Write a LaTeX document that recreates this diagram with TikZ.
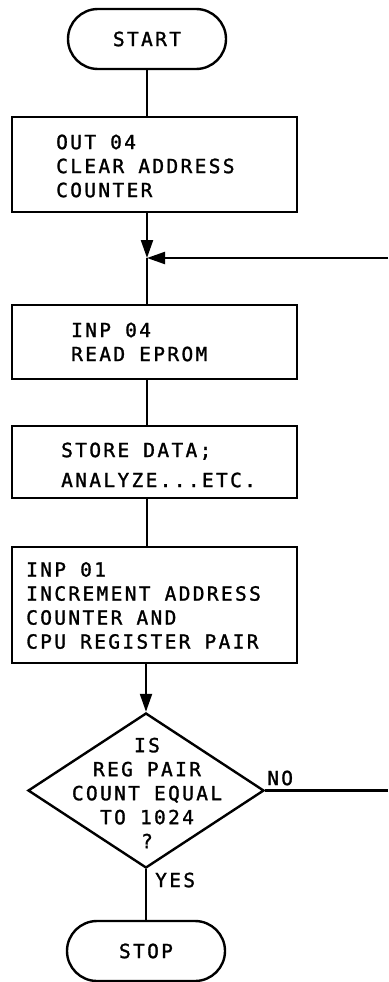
\documentclass[tikz,border=0pt]{standalone}
\usepackage{fontspec}
\setmainfont{DejaVu Sans Mono}[LetterSpace=12,FakeBold=1.4]
\usetikzlibrary{shapes.misc,shapes.geometric,arrows.meta}
\begin{document}
\begin{tikzpicture}[x=1pt,y=-1pt,
  every node/.style={font=\fontsize{19.5}{24}\selectfont},
  term/.style={draw,rounded rectangle,line width=2.4pt,minimum width=158pt,minimum height=60pt,inner sep=0pt},
  procbox/.style={draw,rectangle,line width=2.6pt,minimum width=285pt,inner sep=0pt},
  txt/.style={align=left,anchor=west,inner sep=0pt},
  dec/.style={draw,diamond,line width=2.4pt,minimum width=236pt,minimum height=155pt,inner sep=0pt},
  conn/.style={line width=2.2pt},
  arr/.style={conn,-{Triangle[length=18pt,width=12pt]}},
  lab/.style={inner sep=0pt}
]
\useasboundingbox (0,0) rectangle (388,982);
\node[term] (start) at (147,39) {START};
\node[procbox,minimum height=95pt] (b1) at (154.5,164.5) {};
\node[txt] (b1t) at (56,166) {OUT 04\\CLEAR ADDRESS\\COUNTER};
\coordinate (j) at (147,258);
\coordinate (fb) at (388,258);
\node[procbox,minimum height=74pt] (b2) at (154.5,342) {};
\node[txt] (b2t) at (71,342) {INP 04\\READ EPROM};
\node[procbox,minimum height=72pt] (b3) at (154.5,462) {};
\node[txt,font=\fontsize{19.5}{30}\selectfont] (b3t) at (61,465) {STORE DATA;\\ANALYZE...ETC.};
\node[procbox,minimum height=116pt] (b4) at (154.5,605) {};
\node[txt] (b4t) at (26,605.5) {INP 01\\INCREMENT ADDRESS\\COUNTER AND\\CPU REGISTER PAIR};
\node[dec] (d) at (146,790.5) {};
\node[align=center,inner sep=0pt] (dt) at (147,793) {IS\\REG PAIR\\COUNT EQUAL\\TO 1024\\?};
\coordinate (no) at (388,790.5);
\node[term] (stop) at (146,951) {STOP};

\draw[conn] (start.south -| j) -- (b1.north -| j);
\draw[arr] (b1.south -| j) -- (j);
\draw[arr] (fb) -- (j);
\draw[conn] (j) -- (b2.north -| j);
\draw[conn] (b2.south -| j) -- (b3.north -| j);
\draw[conn] (b3.south -| j) -- (b4.north -| j);
\draw[arr] (b4.south -| d.north) -- (d.north);
\draw[conn] (d.east) -- (no);
\draw[conn] (d.south) -- (stop.north);
\node[lab,anchor=west] (nol) at (267,778) {NO};
\node[lab,anchor=west] (yesl) at (155,880) {YES};
\end{tikzpicture}
\end{document}
